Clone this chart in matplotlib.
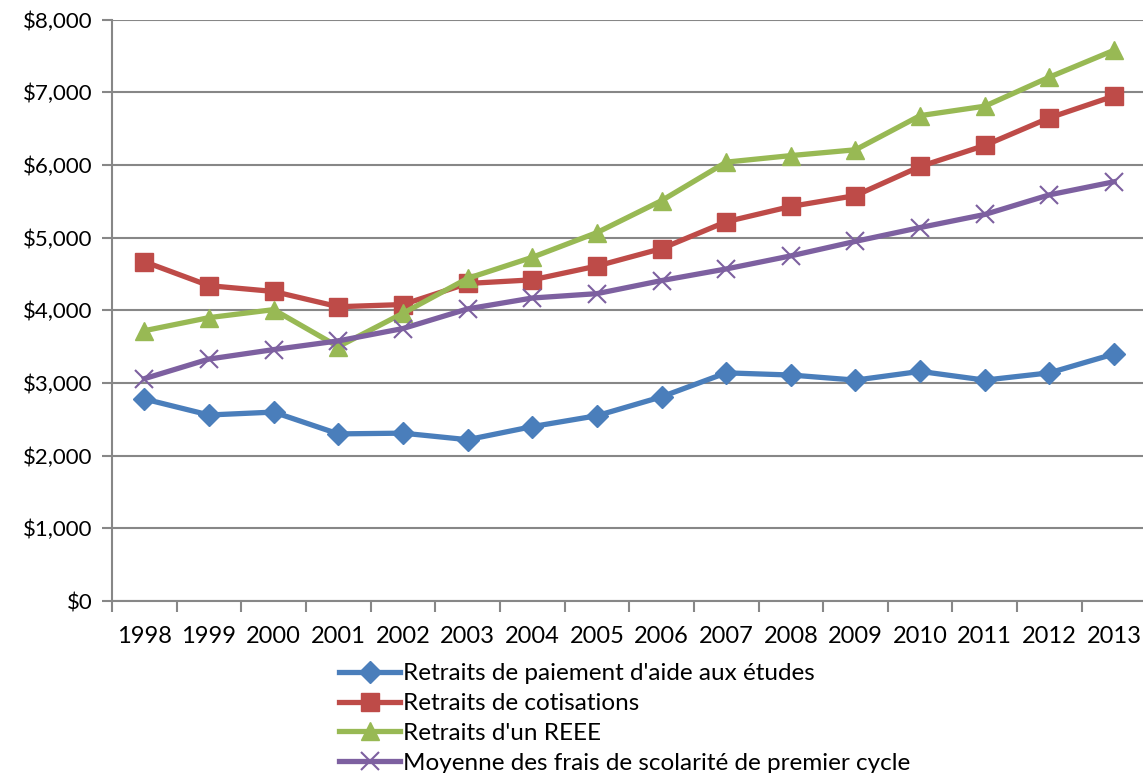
import numpy as np
import matplotlib.pyplot as plt
from matplotlib.ticker import FuncFormatter, FixedLocator

years = ['1998', '1999', '2000', '2001', '2002', '2003', '2004', '2005',
         '2006', '2007', '2008', '2009', '2010', '2011', '2012', '2013']

aide_etudes = [2780, 2560, 2600, 2300, 2310, 2220, 2400, 2550,
               2810, 3140, 3110, 3040, 3160, 3040, 3140, 3400]
cotisations = [4670, 4340, 4260, 4050, 4080, 4370, 4420, 4610,
               4850, 5220, 5430, 5580, 5980, 6270, 6650, 6950]
reee = [3720, 3900, 4010, 3500, 3960, 4440, 4730, 5070,
        5510, 6040, 6130, 6210, 6680, 6810, 7210, 7580]
frais_scolarite = [3060, 3330, 3460, 3580, 3750, 4020, 4170, 4230,
                   4410, 4570, 4750, 4950, 5140, 5320, 5590, 5770]

labels = ["Retraits de paiement d'aide aux études",
          "Retraits de cotisations",
          "Retraits d'un REEE",
          "Moyenne des frais de scolarité de premier cycle"]

plt.rcParams['font.family'] = ['Lato', 'DejaVu Sans']

fig = plt.figure(figsize=(11.43, 7.73), dpi=100)
ax = fig.add_axes([0.098, 0.2225, 0.905, 0.752])

x = np.arange(len(years))
ax.plot(x, aide_etudes, color='#4A7EBB', lw=3.8, marker='D', ms=11,
        label=labels[0])
ax.plot(x, cotisations, color='#BE4B48', lw=3.8, marker='s', ms=13,
        label=labels[1])
ax.plot(x, reee, color='#98B954', lw=3.8, marker='^', ms=13,
        label=labels[2])
ax.plot(x, frais_scolarite, color='#7D60A0', lw=3.8, marker='x', ms=13,
        mew=1.5, label=labels[3])

ax.set_xlim(-0.5, len(years) - 0.5)
ax.set_ylim(0, 8000)
ax.set_yticks(np.arange(0, 8001, 1000))
ax.yaxis.set_major_formatter(FuncFormatter(lambda v, p: '${:,.0f}'.format(v)))
ax.set_xticks(x)
ax.set_xticklabels(years)
ax.xaxis.set_minor_locator(FixedLocator(np.arange(-0.5, len(years), 1.0)))

ax.grid(axis='y', color='#878787', lw=1.5)
ax.set_axisbelow(True)
for s in ['top', 'right']:
    ax.spines[s].set_visible(False)
for s in ['left', 'bottom']:
    ax.spines[s].set_color('#878787')
    ax.spines[s].set_linewidth(1.5)

ax.tick_params(axis='y', length=7, width=1.5, color='#878787',
               labelsize=16, pad=7)
ax.tick_params(axis='x', which='major', length=0, labelsize=17, pad=18)
ax.tick_params(axis='x', which='minor', length=8, width=1.5, color='#878787')

fig.legend(loc='upper left', bbox_to_anchor=(0.297, 0.142), frameon=False,
           fontsize=17.5, handlelength=2.5, handletextpad=0.1,
           labelspacing=0.36, borderpad=0, borderaxespad=0)

fig.savefig('out.png', dpi=100)
